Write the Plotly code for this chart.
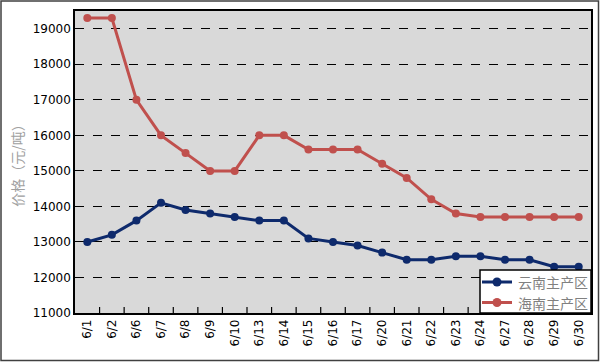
import plotly.graph_objects as go

dates = ["6/1","6/2","6/6","6/7","6/8","6/9","6/10","6/13","6/14","6/15","6/16","6/17",
         "6/20","6/21","6/22","6/23","6/24","6/27","6/28","6/29","6/30"]
yunnan = [13000,13200,13600,14100,13900,13800,13700,13600,13600,13100,13000,12900,
          12700,12500,12500,12600,12600,12500,12500,12300,12300]
hainan = [19300,19300,17000,16000,15500,15000,15000,16000,16000,15600,15600,15600,
          15200,14800,14200,13800,13700,13700,13700,13700,13700]
y_ticks = [11000,12000,13000,14000,15000,16000,17000,18000,19000]
y_labels = [str(v) for v in y_ticks]
series_names = ["云南主产区", "海南主产区"]
series_colors = ["#0E2A6C", "#C0504D"]

W, H = 600, 362
L, R, T, B = 75, 9, 11, 49
pw, ph = W - L - R, H - T - B

fig = go.Figure()
for name, vals, col in zip(series_names, [yunnan, hainan], series_colors):
    fig.add_trace(go.Scatter(x=dates, y=vals, name=name, mode="lines+markers",
                             line=dict(color=col, width=3), marker=dict(size=8, color=col)))

def px_x(p): return (p - L) / pw
def px_y(p): return (H - B - p) / ph

shapes = [dict(type="rect", xref="paper", yref="paper",
               x0=px_x(1), x1=px_x(W - 1.5), y0=px_y(H - 1.5), y1=px_y(1),
               line=dict(color="#404040", width=1.5), fillcolor="rgba(0,0,0,0)", layer="below")]
for i in range(len(dates) - 1):
    shapes.append(dict(type="line", xref="x", yref="paper", x0=i + 0.5, x1=i + 0.5, y0=0, y1=6 / ph,
                       line=dict(color="black", width=1.2)))

# legend box (drawn manually to match compact Excel-style legend)
annotations = []
shapes.append(dict(type="rect", xref="paper", yref="paper",
                   x0=px_x(480), x1=px_x(591), y0=px_y(313), y1=px_y(270),
                   line=dict(color="black", width=1.5), fillcolor="white", layer="above"))
for k, (name, col) in enumerate(zip(series_names, series_colors)):
    cy = 282 + k * 20.5
    shapes.append(dict(type="line", xref="paper", yref="paper",
                       x0=px_x(482), x1=px_x(512), y0=px_y(cy), y1=px_y(cy),
                       line=dict(color=col, width=3), layer="above"))
    shapes.append(dict(type="circle", xref="paper", yref="paper",
                       x0=px_x(497 - 4.5), x1=px_x(497 + 4.5), y0=px_y(cy + 4.5), y1=px_y(cy - 4.5),
                       line=dict(color=col, width=0), fillcolor=col, layer="above"))
    annotations.append(dict(xref="paper", yref="paper", x=px_x(516), y=px_y(cy),
                            xanchor="left", yanchor="middle", showarrow=False, text=name,
                            font=dict(family="Noto Sans CJK SC", size=14, color="#808080")))

fig.update_layout(
    width=W, height=H,
    margin=dict(l=L, r=R, t=T, b=B, autoexpand=False),
    paper_bgcolor="white", plot_bgcolor="#D9D9D9",
    font=dict(family="DejaVu Sans", size=12, color="black"),
    showlegend=False,
    xaxis=dict(type="category", range=[-0.5, len(dates) - 0.5], tickangle=-90,
               showgrid=False, showline=True,
               linecolor="black", linewidth=1.5, mirror=True, ticks="", automargin=False,
               tickfont=dict(size=12)),
    yaxis=dict(range=[11000, 19500], tickvals=y_ticks, ticktext=y_labels, showgrid=True,
               gridcolor="black", griddash="dash", gridwidth=1, automargin=False,
               showline=True, linecolor="black", linewidth=1.5, mirror=True,
               ticks="", tickfont=dict(size=12), zeroline=False,
               title=dict(text="价格（元/吨）", font=dict(family="Noto Sans CJK SC", size=14, color="#A0A0A0"), standoff=6)),
    shapes=shapes,
    annotations=annotations,
)

fig.write_html("out.html", config={"displayModeBar": False},
               post_script="document.body.style.margin='0';")
